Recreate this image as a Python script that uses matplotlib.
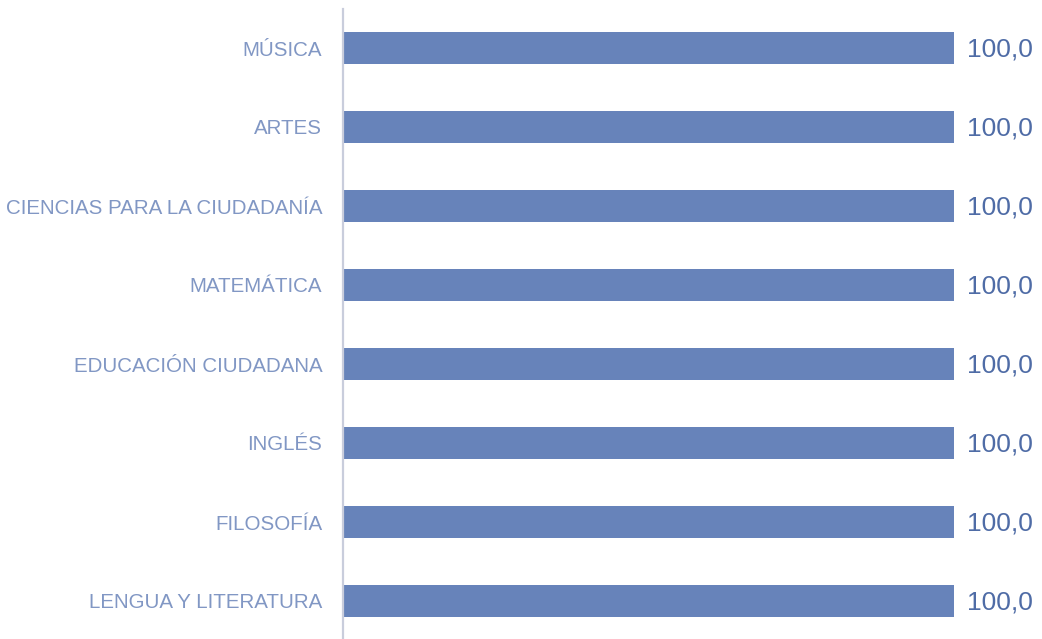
import matplotlib
matplotlib.use("Agg")
import matplotlib.pyplot as plt

subjects = [
    "LENGUA Y LITERATURA",
    "FILOSOFÍA",
    "INGLÉS",
    "EDUCACIÓN CIUDADANA",
    "MATEMÁTICA",
    "CIENCIAS PARA LA CIUDADANÍA",
    "ARTES",
    "MÚSICA",
]
values = [100.0, 100.0, 100.0, 100.0, 100.0, 100.0, 100.0, 100.0]

plt.rcParams['font.family'] = ['Liberation Sans', 'DejaVu Sans']

fig = plt.figure(figsize=(10.42, 6.39), dpi=100)
# axes placed in figure pixels: left spine at x=343, 100 ends at x=954
ax = fig.add_axes([343 / 1042, -1.5 / 639, (954 - 343) / 1042, 632 / 639])

bar_color = "#6783ba"
ax.barh(range(len(subjects)), values, height=0.4, color=bar_color)

ax.set_xlim(0, 100)
ax.set_ylim(-0.5, len(subjects) - 0.5)
ax.set_yticks(range(len(subjects)))
ax.set_yticklabels(subjects, fontsize=14.8, color="#8197c4")
ax.tick_params(axis="y", length=0, pad=15)
ax.set_xticks([])

for side in ["top", "right", "bottom"]:
    ax.spines[side].set_visible(False)
ax.spines["left"].set_color("#c9cddc")
ax.spines["left"].set_linewidth(1.6)

for i, v in enumerate(values):
    ax.text(v + 2.1, i - 0.02, f"{v:.1f}".replace(".", ","), va="center", ha="left",
            fontsize=19, color="#4f6ca6", clip_on=False)

fig.savefig("out.png", dpi=100)
